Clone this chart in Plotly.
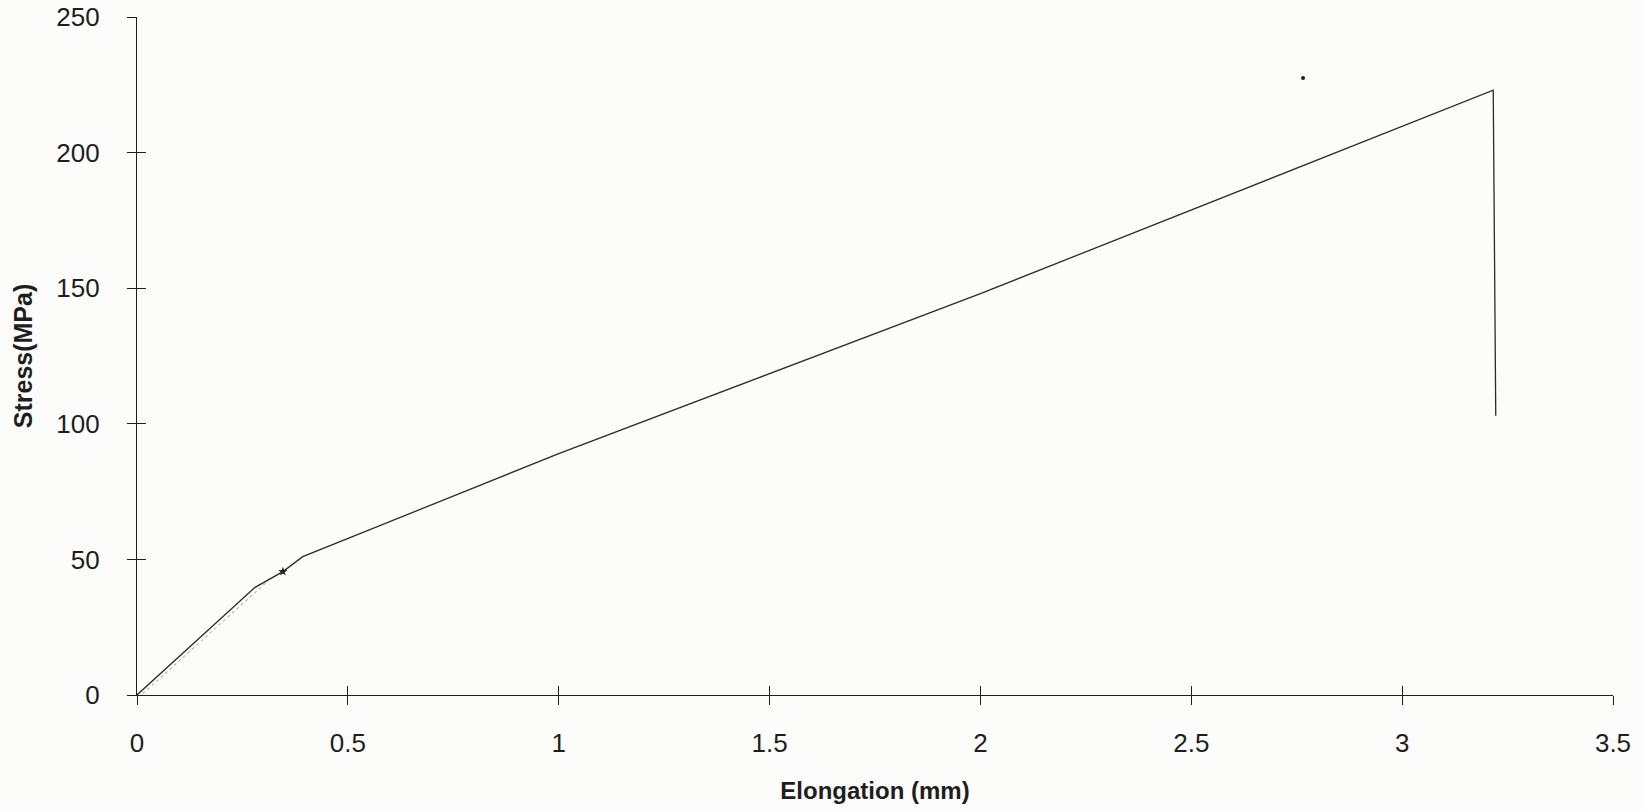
import plotly.graph_objects as go

# Stress-elongation record of the tensile test
elongation_mm = [0.0, 0.14, 0.28, 0.346, 0.393, 1.0, 2.0, 3.216, 3.222]
stress_mpa = [0.0, 20.0, 39.7, 45.5, 51.0, 89.0, 148.0, 223.0, 103.0]

# faint preliminary trace under the elastic part
faint_elong = [0.014, 0.16, 0.31]
faint_stress = [0.5, 21.0, 42.0]

# marked point on the loading curve
mark_elong = [0.346]
mark_stress = [45.5]

# isolated stray point above the curve
stray_elong = [2.765]
stray_stress = [227.5]

x_ticks = [0, 0.5, 1, 1.5, 2, 2.5, 3, 3.5]
x_tick_text = ["0", "0.5", "1", "1.5", "2", "2.5", "3", "3.5"]
y_ticks = [0, 50, 100, 150, 200, 250]
y_tick_text = ["0", "50", "100", "150", "200", "250"]

ink = "#1e1e1e"
font_family = "Liberation Sans, Arial, sans-serif"

fig = go.Figure()

fig.add_trace(go.Scatter(
    x=faint_elong, y=faint_stress, mode="lines",
    line=dict(color="#b8b8b8", width=1.2, dash="dot"),
    hoverinfo="skip", showlegend=False,
))
fig.add_trace(go.Scatter(
    x=elongation_mm, y=stress_mpa, mode="lines",
    line=dict(color="#2a2a2a", width=1.3),
    showlegend=False,
))
fig.add_trace(go.Scatter(
    x=mark_elong, y=mark_stress, mode="markers",
    marker=dict(symbol="star", size=7, color=ink),
    showlegend=False,
))
fig.add_trace(go.Scatter(
    x=stray_elong, y=stray_stress, mode="markers",
    marker=dict(symbol="circle", size=4, color=ink),
    showlegend=False,
))

axis_common = dict(
    showgrid=False, zeroline=False, showline=True, automargin=False,
    linecolor=ink, linewidth=1.3, tickcolor=ink, tickwidth=1.3,
    ticklen=9,
)

fig.update_layout(
    width=1645, height=810,
    margin=dict(l=137, r=32, t=17, b=115),
    paper_bgcolor="#fcfcfb", plot_bgcolor="#fcfcfb",
    font=dict(family=font_family, color=ink, size=26),
    xaxis=dict(
        **axis_common, range=[0, 3.5], ticks="outside",
        tickmode="array", tickvals=x_ticks, ticktext=x_tick_text,
        tickfont=dict(size=26, color=ink), ticklabelstandoff=16,
        title=dict(text="<b>Elongation (mm)</b>", font=dict(size=24, color=ink), standoff=24),
    ),
    yaxis=dict(
        **axis_common, range=[0, 250], ticks="outside",
        tickmode="array", tickvals=y_ticks, ticktext=y_tick_text,
        tickfont=dict(size=26, color=ink), ticklabelstandoff=22,
        title=dict(text="<b>Stress(MPa)</b>", font=dict(size=25, color=ink), standoff=16),
    ),
    # companion axes carrying the inner half of each crossing tick
    xaxis2=dict(
        **axis_common, range=[0, 3.5], ticks="inside", overlaying="x",
        side="bottom", tickmode="array", tickvals=x_ticks, showticklabels=False,
    ),
    yaxis2=dict(
        **axis_common, range=[0, 250], ticks="inside", overlaying="y",
        side="left", tickmode="array", tickvals=y_ticks, showticklabels=False,
    ),
)

# invisible trace so the companion axes are drawn
fig.add_trace(go.Scatter(
    x=[0], y=[0], xaxis="x2", yaxis="y2", mode="markers",
    marker=dict(opacity=0), hoverinfo="skip", showlegend=False,
))

fig.write_html("out.html")
